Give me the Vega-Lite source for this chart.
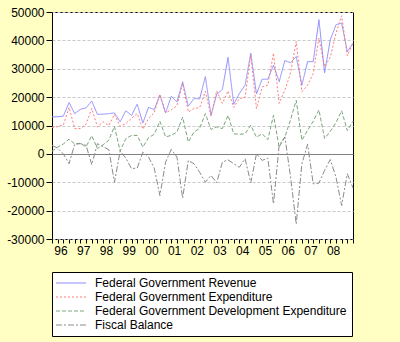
{
  "$schema": "https://vega.github.io/schema/vega-lite/v6.json",
  "width": 301,
  "height": 227,
  "autosize": "none",
  "padding": {"left": 52, "top": 12, "right": 47, "bottom": 103},
  "background": "#ffffc4",
  "view": {"fill": "white", "stroke": "black", "strokeWidth": 1},
  "config": {"font": "Liberation Sans"},
  "data": {"values": [
    {"t": 1996, "rev": 13000, "exp": 9300, "dev": 900, "bal": 3000},
    {"t": 1996.25, "rev": 13100, "exp": 9600, "dev": 2400, "bal": 2000},
    {"t": 1996.5, "rev": 13300, "exp": 10200, "dev": 3500, "bal": 0},
    {"t": 1996.75, "rev": 18100, "exp": 16400, "dev": 5200, "bal": -3500},
    {"t": 1997, "rev": 14200, "exp": 8900, "dev": 3500, "bal": 3400},
    {"t": 1997.25, "rev": 15700, "exp": 8900, "dev": 3700, "bal": 3600},
    {"t": 1997.5, "rev": 16200, "exp": 10500, "dev": 2500, "bal": 3000},
    {"t": 1997.75, "rev": 18600, "exp": 16000, "dev": 6400, "bal": -3800},
    {"t": 1998, "rev": 13900, "exp": 9500, "dev": 1900, "bal": 3600},
    {"t": 1998.25, "rev": 14000, "exp": 11300, "dev": 3200, "bal": 2500},
    {"t": 1998.5, "rev": 14200, "exp": 10000, "dev": 4800, "bal": 1500},
    {"t": 1998.75, "rev": 14400, "exp": 13900, "dev": 9700, "bal": -10000},
    {"t": 1999, "rev": 11300, "exp": 9700, "dev": 1000, "bal": 1000},
    {"t": 1999.25, "rev": 15200, "exp": 10700, "dev": 5400, "bal": -1500},
    {"t": 1999.5, "rev": 13600, "exp": 12500, "dev": 6500, "bal": -5200},
    {"t": 1999.75, "rev": 17500, "exp": 14200, "dev": 6500, "bal": -5000},
    {"t": 2000, "rev": 10900, "exp": 8700, "dev": 2400, "bal": 600},
    {"t": 2000.25, "rev": 16400, "exp": 12500, "dev": 5700, "bal": -1100},
    {"t": 2000.5, "rev": 15600, "exp": 14500, "dev": 6900, "bal": -5000},
    {"t": 2000.75, "rev": 20700, "exp": 21000, "dev": 11500, "bal": -14700},
    {"t": 2001, "rev": 14400, "exp": 14500, "dev": 6000, "bal": -2900},
    {"t": 2001.25, "rev": 20300, "exp": 15500, "dev": 6500, "bal": 1600},
    {"t": 2001.5, "rev": 18300, "exp": 17000, "dev": 7700, "bal": -1100},
    {"t": 2001.75, "rev": 25400, "exp": 24800, "dev": 13000, "bal": -15600},
    {"t": 2002, "rev": 16800, "exp": 14800, "dev": 4200, "bal": -2300},
    {"t": 2002.25, "rev": 19500, "exp": 16000, "dev": 7700, "bal": -3500},
    {"t": 2002.5, "rev": 19400, "exp": 16300, "dev": 9000, "bal": -6500},
    {"t": 2002.75, "rev": 27200, "exp": 22000, "dev": 14200, "bal": -10000},
    {"t": 2003, "rev": 13600, "exp": 13300, "dev": 8600, "bal": -7600},
    {"t": 2003.25, "rev": 21000, "exp": 22200, "dev": 9500, "bal": -10200},
    {"t": 2003.5, "rev": 22700, "exp": 17800, "dev": 8900, "bal": -2900},
    {"t": 2003.75, "rev": 34000, "exp": 22200, "dev": 13600, "bal": -2100},
    {"t": 2004, "rev": 17500, "exp": 16400, "dev": 7100, "bal": -3500},
    {"t": 2004.25, "rev": 21300, "exp": 19500, "dev": 6900, "bal": -4700},
    {"t": 2004.5, "rev": 24200, "exp": 19900, "dev": 7100, "bal": -1700},
    {"t": 2004.75, "rev": 35500, "exp": 34900, "dev": 10100, "bal": -10200},
    {"t": 2005, "rev": 21100, "exp": 16000, "dev": 5900, "bal": 0},
    {"t": 2005.25, "rev": 26300, "exp": 23600, "dev": 7100, "bal": -2300},
    {"t": 2005.5, "rev": 26300, "exp": 24200, "dev": 5000, "bal": -1500},
    {"t": 2005.75, "rev": 31300, "exp": 35500, "dev": 13600, "bal": -17600},
    {"t": 2006, "rev": 25400, "exp": 17800, "dev": 2400, "bal": 3000},
    {"t": 2006.25, "rev": 32900, "exp": 22500, "dev": 5900, "bal": 6000},
    {"t": 2006.5, "rev": 32100, "exp": 28400, "dev": 12000, "bal": -8000},
    {"t": 2006.75, "rev": 34300, "exp": 39600, "dev": 18900, "bal": -24700},
    {"t": 2007, "rev": 24200, "exp": 21900, "dev": 4800, "bal": -3500},
    {"t": 2007.25, "rev": 32500, "exp": 24200, "dev": 8300, "bal": 3400},
    {"t": 2007.5, "rev": 32500, "exp": 28400, "dev": 11500, "bal": -10600},
    {"t": 2007.75, "rev": 47300, "exp": 40800, "dev": 15500, "bal": -10300},
    {"t": 2008, "rev": 28600, "exp": 30700, "dev": 5400, "bal": -5800},
    {"t": 2008.25, "rev": 40200, "exp": 34000, "dev": 8000, "bal": -2000},
    {"t": 2008.5, "rev": 45500, "exp": 42500, "dev": 11000, "bal": -8200},
    {"t": 2008.75, "rev": 46100, "exp": 48700, "dev": 15200, "bal": -18200},
    {"t": 2009, "rev": 36000, "exp": 34600, "dev": 8200, "bal": -7000},
    {"t": 2009.25, "rev": 39000, "exp": 39000, "dev": 11500, "bal": -12000}
  ]},
  "transform": [{"fold": ["rev", "exp", "dev", "bal"], "as": ["series", "value"]}],
  "mark": {"type": "line", "strokeWidth": 1},
  "encoding": {
    "x": {
      "field": "t", "type": "quantitative",
      "scale": {"domain": [1996, 2009.25], "nice": false, "zero": false},
      "axis": {
        "title": null,
        "grid": false,
        "domain": false,
        "values": [1996,1996.25,1996.5,1996.75,1997,1997.25,1997.5,1997.75,1998,1998.25,1998.5,1998.75,1999,1999.25,1999.5,1999.75,2000,2000.25,2000.5,2000.75,2001,2001.25,2001.5,2001.75,2002,2002.25,2002.5,2002.75,2003,2003.25,2003.5,2003.75,2004,2004.25,2004.5,2004.75,2005,2005.25,2005.5,2005.75,2006,2006.25,2006.5,2006.75,2007,2007.25,2007.5,2007.75,2008,2008.25,2008.5,2008.75,2009,2009.25,1996.375,1997.375,1998.375,1999.375,2000.375,2001.375,2002.375,2003.375,2004.375,2005.375,2006.375,2007.375,2008.375],
        "labelExpr": "datum.value % 1 == 0.375 ? substring(toString(floor(datum.value)), 2, 4) : ''",
        "tickOpacity": {"condition": {"test": "datum.value % 1 == 0.375", "value": 0}, "value": 1},
        "labelOverlap": false,
        "labelFlush": false,
        "tickSize": 4,
        "tickColor": "black",
        "labelFontSize": 12,
        "labelColor": "black",
        "labelPadding": 2
      }
    },
    "y": {
      "field": "value", "type": "quantitative",
      "scale": {"domain": [-30000, 50000], "nice": false},
      "axis": {
        "title": null,
        "domain": false,
        "values": [-30000, -20000, -10000, 0, 10000, 20000, 30000, 40000, 50000],
        "labelExpr": "'' + datum.value",
        "grid": true,
        "gridDash": {"condition": {"test": "datum.value == 0", "value": []}, "value": [3, 2]},
        "gridColor": {"condition": {"test": "datum.value == 0", "value": "#808080"}, "value": "#c8c8c8"},
        "tickSize": 6,
        "tickColor": "black",
        "labelFontSize": 12,
        "labelColor": "black",
        "labelPadding": 2
      }
    },
    "color": {
      "field": "series", "type": "nominal",
      "scale": {"domain": ["rev", "exp", "dev", "bal"], "range": ["#8c8cff", "#ff7a7a", "#7aa67a", "#8a8a8a"]},
      "legend": {
        "title": null, "orient": "none", "legendX": 0, "legendY": 260, "direction": "vertical",
        "fillColor": "white", "strokeColor": "black", "padding": 5,
        "symbolType": "M-3,0H3", "symbolSize": 100, "symbolStrokeWidth": 1,
        "symbolOffset": 8, "labelOffset": 18, "labelFontSize": 12, "labelColor": "black",
        "rowPadding": 2, "labelLimit": 400,
        "labelExpr": "datum.value == 'rev' ? 'Federal Government Revenue' : datum.value == 'exp' ? 'Federal Government Expenditure' : datum.value == 'dev' ? 'Federal Government Development Expenditure' : 'Fiscal Balance'"
      }
    },
    "strokeDash": {
      "field": "series", "type": "nominal",
      "scale": {"domain": ["rev", "exp", "dev", "bal"], "range": [[1, 0], [2, 2], [4, 2], [6, 2, 2, 2]]},
      "legend": {
        "title": null, "orient": "none", "legendX": 0, "legendY": 260, "direction": "vertical",
        "fillColor": "white", "strokeColor": "black", "padding": 5,
        "symbolType": "M-3,0H3", "symbolSize": 100, "symbolStrokeWidth": 1,
        "symbolOffset": 8, "labelOffset": 18, "labelFontSize": 12, "labelColor": "black",
        "rowPadding": 2, "labelLimit": 400,
        "labelExpr": "datum.value == 'rev' ? 'Federal Government Revenue' : datum.value == 'exp' ? 'Federal Government Expenditure' : datum.value == 'dev' ? 'Federal Government Development Expenditure' : 'Fiscal Balance'"
      }
    }
  }
}
